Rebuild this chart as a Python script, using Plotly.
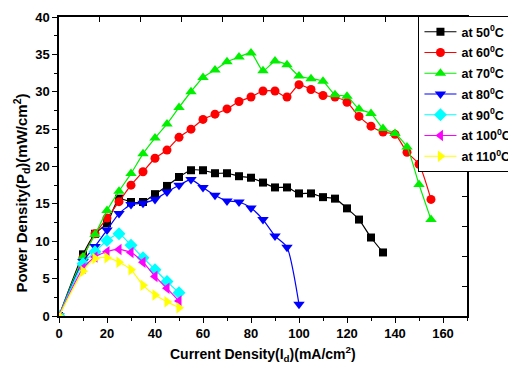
import plotly.graph_objects as go

x50 = [0, 10, 15, 20, 25, 30, 35, 40, 45, 50, 55, 60, 65, 70, 75, 80, 85, 90, 95, 100, 105, 110, 115, 120, 125, 130, 135]
y50 = [0, 8.25, 11.0, 12.4, 15.7, 15.25, 15.25, 16.3, 17.4, 18.6, 19.5, 19.5, 19.1, 19.1, 18.7, 18.5, 17.85, 17.2, 17.2, 16.4, 16.4, 15.9, 15.7, 14.4, 12.9, 10.5, 8.5]

x60 = [0, 10, 15, 20, 25, 30, 35, 40, 45, 50, 55, 60, 65, 70, 75, 80, 85, 90, 95, 100, 105, 110, 115, 120, 125, 130, 135, 140, 145, 150, 155]
y60 = [0, 7.8, 11.0, 13.1, 15.3, 17.5, 19.3, 21.1, 22.2, 23.9, 25.0, 26.3, 27.0, 27.7, 28.7, 29.3, 30.1, 30.1, 29.3, 30.95, 30.3, 29.5, 29.3, 28.6, 26.7, 25.4, 24.6, 24.3, 21.9, 20.3, 15.6]

x70 = [0, 10, 15, 20, 25, 30, 35, 40, 45, 50, 55, 60, 65, 70, 75, 80, 85, 90, 95, 100, 105, 110, 115, 120, 125, 130, 135, 140, 145, 150, 155]
y70 = [0, 7.9, 10.9, 14.1, 16.7, 19.05, 21.7, 23.8, 25.7, 27.9, 30.0, 31.9, 32.9, 34.0, 34.65, 35.2, 32.8, 34.1, 33.6, 32.1, 31.75, 31.4, 29.6, 29.4, 27.7, 27.1, 25.1, 24.4, 22.6, 17.6, 12.9]

x80 = [0, 10, 15, 20, 25, 30, 35, 40, 45, 50, 55, 60, 65, 70, 75, 80, 85, 90, 95, 100]
y80 = [0, 7.3, 9.3, 11.5, 13.7, 14.9, 15.1, 15.6, 16.6, 17.5, 18.25, 17.2, 16.15, 15.4, 15.25, 14.45, 12.9, 10.7, 9.2, 1.56]

x90 = [0, 10, 15, 20, 25, 30, 35, 40, 45, 50]
y90 = [0, 7.0, 8.6, 10.1, 11.0, 9.45, 7.8, 6.2, 4.6, 3.1]

x100 = [0, 10, 15, 20, 25, 30, 35, 40, 45, 50]
y100 = [0, 6.4, 7.9, 8.6, 8.9, 8.5, 7.2, 5.3, 3.7, 2.0]

x110 = [0, 10, 15, 20, 25, 30, 35, 40, 45, 50]
y110 = [0, 6.0, 7.7, 7.8, 7.2, 6.2, 4.1, 2.8, 1.9, 1.1]

names = ["at 50<sup>0</sup>C", "at 60<sup>0</sup>C", "at 70<sup>0</sup>C", "at 80<sup>0</sup>C",
         "at 90<sup>0</sup>C", "at 100<sup>0</sup>C", "at 110<sup>0</sup>C"]

series = [
    (x50, y50, "#000000", "square", 8),
    (x60, y60, "#ff0000", "circle", 9),
    (x70, y70, "#00f000", "triangle-up", 10),
    (x80, y80, "#0000ff", "triangle-down", 10),
    (x90, y90, "#00ffff", "diamond", 10),
    (x100, y100, "#ff00ff", "triangle-left", 10),
    (x110, y110, "#ffff00", "triangle-right", 10),
]

FONT = "Arial, Liberation Sans, sans-serif"

fig = go.Figure()
for (xs, ys, c, sym, sz), nm in zip(series, names):
    fig.add_trace(go.Scatter(
        x=xs, y=ys, name=nm, mode="lines+markers", legendgroup=nm,
        line=dict(color=c, width=1.2, shape="spline", smoothing=0.6),
        marker=dict(color=c, symbol=sym, size=sz, line=dict(width=0)),
    ))

# helper trace for mirrored inside-tick axes
fig.add_trace(go.Scatter(x=[None], y=[None], xaxis="x2", yaxis="y2",
                         showlegend=False, hoverinfo="skip"))

# page body adds an 8px margin, so the figure is 8px smaller than the window
fig.update_layout(
    width=508, height=359,
    margin=dict(l=51, r=49, t=9, b=51, autoexpand=False),
    paper_bgcolor="white", plot_bgcolor="white",
    font=dict(family=FONT, size=13, color="black"),
    showlegend=True,
    legend=dict(
        x=0.881, y=1.003, xanchor="left", yanchor="top",
        bgcolor="white", bordercolor="black", borderwidth=1,
        font=dict(family=FONT, size=12.5, color="black", weight="bold"),
        itemwidth=32, tracegroupgap=1.5,
    ),
    xaxis=dict(
        range=[0, 170], tickmode="linear", tick0=0, dtick=20,
        ticks="outside", ticklen=5, tickwidth=1.2, tickcolor="black",
        showline=True, linecolor="black", linewidth=1.5, mirror=True,
        showgrid=False, zeroline=False, automargin=False,
        tickfont=dict(family=FONT, size=13, weight="bold"),
        minor=dict(dtick=10, ticks="outside", ticklen=3, tickcolor="black", showgrid=False),
    ),
    yaxis=dict(
        range=[0, 40], tickmode="linear", tick0=0, dtick=5,
        ticks="outside", ticklen=5, tickwidth=1.2, tickcolor="black",
        showline=True, linecolor="black", linewidth=1.5, mirror=True,
        showgrid=False, zeroline=False, automargin=False,
        tickfont=dict(family=FONT, size=13, weight="bold"),
        minor=dict(dtick=2.5, ticks="outside", ticklen=3, tickcolor="black", showgrid=False),
    ),
    xaxis2=dict(
        overlaying="x", side="top", anchor="y2", range=[0, 170],
        tickmode="linear", tick0=0, dtick=17, ticks="inside", ticklen=5,
        tickcolor="black", tickwidth=1.2, showticklabels=False,
        showgrid=False, zeroline=False, showline=False, automargin=False,
    ),
    yaxis2=dict(
        overlaying="y", side="right", anchor="x2", range=[0, 40],
        tickmode="linear", tick0=0, dtick=4, ticks="inside", ticklen=5,
        tickcolor="black", tickwidth=1.2, showticklabels=False,
        showgrid=False, zeroline=False, showline=False, automargin=False,
    ),
    annotations=[
        dict(text="<b>Current Density(I<sub>d</sub>)(mA/cm<sup>2</sup>)</b>",
             xref="paper", yref="paper", x=0.5, y=-0.168, xanchor="center", yanchor="bottom",
             showarrow=False, font=dict(family=FONT, size=14, color="black")),
        dict(text="<b>Power Density(P<sub>d</sub>)(mW/cm<sup>2</sup>)</b>",
             xref="paper", yref="paper", x=-0.093, y=0.41, xanchor="center", yanchor="middle",
             textangle=-90, showarrow=False, font=dict(family=FONT, size=15, color="black")),
    ],
)

fig.write_html("out.html")
